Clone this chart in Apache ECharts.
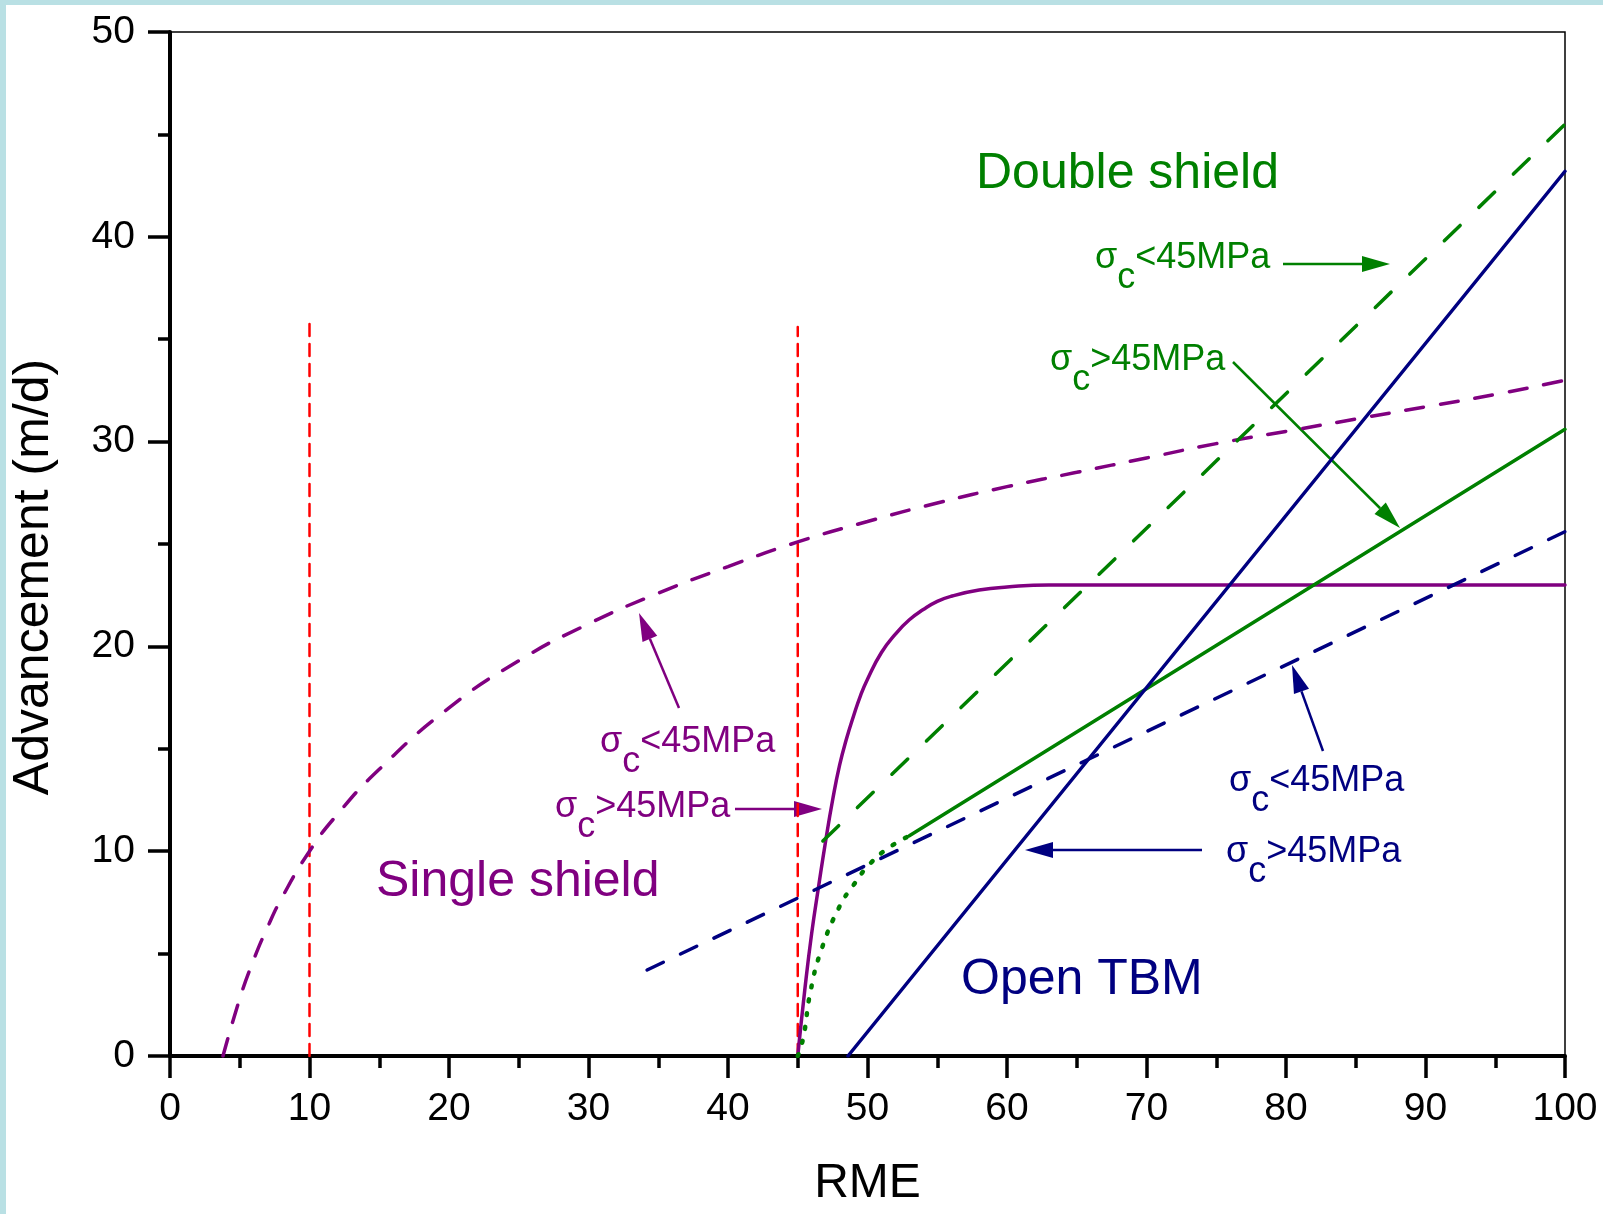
<!DOCTYPE html>
<html>
<head>
<meta charset="utf-8">
<script src="https://cdn.jsdelivr.net/npm/echarts@6.0.0/dist/echarts.min.js"></script>
<style>
html, body { margin: 0; padding: 0; background: #fff; }
#main { width: 1603px; height: 1214px; }
</style>
</head>
<body>
<div id="main"></div>
<script>
// Single shield, sigma_c < 45 MPa (purple dashed)
var ssLowX = [3.8, 5, 6, 7, 8, 10, 12, 15, 20, 25, 30, 35, 40, 45, 50, 55, 60, 65, 70, 75, 80, 85, 90, 95, 100];
var ssLowY = [0, 2.8, 4.7, 6.3, 7.7, 10.0, 11.8, 14.0, 17.0, 19.3, 21.1, 22.6, 23.9, 25.1, 26.1, 27.0, 27.8, 28.5, 29.2, 29.9, 30.5, 31.1, 31.7, 32.3, 33.0];
// Single shield, sigma_c > 45 MPa (purple solid)
var ssHighX = [45, 45.5, 46, 46.5, 47, 47.5, 48, 48.5, 49, 49.5, 50, 51, 52, 53, 54, 55, 56, 58, 60, 63, 66, 100];
var ssHighY = [0, 3.2, 6.0, 8.3, 10.5, 12.5, 14.2, 15.5, 16.6, 17.6, 18.4, 19.7, 20.6, 21.3, 21.8, 22.2, 22.45, 22.75, 22.9, 23.0, 23.0, 23.0];
// Double shield, sigma_c < 45 MPa (green dashed)
var dsLowX = [46.8, 100];
var dsLowY = [10.5, 45.5];
// Double shield, sigma_c > 45 MPa: dotted start, then solid
var dsStartX = [45, 45.4, 45.9, 46.7, 48, 49, 50.2, 51.6, 53];
var dsStartY = [0, 0.9, 3.1, 5.2, 7.3, 8.35, 9.4, 10.2, 10.75];
var dsHighX = [53, 100];
var dsHighY = [10.75, 30.6];
// Open TBM
var obLowX = [34.2, 100];
var obLowY = [4.2, 25.6];
var obHighX = [48.6, 100];
var obHighY = [0, 43.2];
// RME limits (red dashed)
var limit1X = [10, 10];
var limit1Y = [0, 35.9];
var limit2X = [45, 45];
var limit2Y = [0, 35.6];

function pairs(xs, ys) {
    return xs.map(function (x, i) { return [x, ys[i]]; });
}

var FONT = '"Liberation Sans", Arial, sans-serif';
var PURPLE = '#800080', GREEN = '#008000', NAVY = '#000080', RED = '#ff0000';
var SIG = 36;

var measureCtx = document.createElement('canvas').getContext('2d');
measureCtx.font = SIG + 'px ' + FONT;

function sigmaLabel(left, base, rel, color) {
    var w1 = measureCtx.measureText('σ').width;
    var w2 = measureCtx.measureText('c').width;
    var mid = base - SIG * 0.35;
    var st = function (t) {
        return { text: t, fill: color, fontSize: SIG, fontFamily: FONT, align: 'left', verticalAlign: 'middle' };
    };
    return {
        type: 'group',
        children: [
            { type: 'text', x: left, y: mid, style: st('σ') },
            { type: 'text', x: left + w1, y: mid + 20, style: st('c') },
            { type: 'text', x: left + w1 + w2, y: mid, style: st(rel + '45MPa') }
        ]
    };
}

function arrow(x1, y1, x2, y2, color) {
    var dx = x2 - x1, dy = y2 - y1;
    var len = Math.sqrt(dx * dx + dy * dy);
    var ux = dx / len, uy = dy / len;
    var hl = 28, hw = 8;
    var bx = x2 - ux * hl, by = y2 - uy * hl;
    return [
        { type: 'line', shape: { x1: x1, y1: y1, x2: bx, y2: by }, style: { stroke: color, lineWidth: 2.5 } },
        { type: 'polygon', shape: { points: [[x2, y2], [bx - uy * hw, by + ux * hw], [bx + uy * hw, by - ux * hw]] }, style: { fill: color } }
    ];
}

function bigLabel(x, y, text, color) {
    return { type: 'text', x: x, y: y, style: { text: text, fill: color, fontSize: 50, fontFamily: FONT, align: 'left', verticalAlign: 'middle' } };
}

function lineSeries(data, color, type, width, smooth) {
    return {
        type: 'line',
        data: data,
        symbol: 'none',
        smooth: smooth || false,
        silent: true,
        lineStyle: { color: color, width: width, type: type, cap: 'round' }
    };
}

var axisCommon = {
    type: 'value',
    axisLine: { show: true, onZero: false, lineStyle: { color: '#000', width: 4 } },
    axisTick: { show: true, length: 22, lineStyle: { color: '#000', width: 3.5 } },
    minorTick: { show: true, splitNumber: 2, length: 12, lineStyle: { color: '#000', width: 3.5 } },
    splitLine: { show: false },
    minorSplitLine: { show: false }
};

var chart = echarts.init(document.getElementById('main'));

var graphics = [
    { type: 'rect', shape: { x: 0, y: 0, width: 1603, height: 5 }, style: { fill: '#b9e0e4' } },
    { type: 'rect', shape: { x: 0, y: 0, width: 6, height: 1214 }, style: { fill: '#b9e0e4' } },
    { type: 'text', x: 34, y: 577, rotation: Math.PI / 2,
      style: { text: 'Advancement (m/d)', fill: '#000', fontSize: 50, fontFamily: FONT, align: 'center', verticalAlign: 'middle' } },
    bigLabel(976, 174, 'Double shield', GREEN),
    bigLabel(376, 882, 'Single shield', PURPLE),
    bigLabel(961, 980, 'Open TBM', NAVY),
    sigmaLabel(1095, 271, '<', GREEN),
    sigmaLabel(1050, 373, '>', GREEN),
    sigmaLabel(600, 755, '<', PURPLE),
    sigmaLabel(555, 820, '>', PURPLE),
    sigmaLabel(1229, 794, '<', NAVY),
    sigmaLabel(1226, 865, '>', NAVY)
].concat(
    arrow(1283, 264, 1390, 264, GREEN),
    arrow(1233, 362, 1400, 528, GREEN),
    arrow(679, 708, 639, 613, PURPLE),
    arrow(735, 809, 822, 809, PURPLE),
    arrow(1323, 751, 1292, 665, NAVY),
    arrow(1202, 850, 1025, 850, NAVY)
);

chart.setOption({
    animation: false,
    backgroundColor: '#fff',
    grid: { left: 170, right: 38, top: 32, bottom: 158, show: true, borderColor: '#000', borderWidth: 1.5 },
    xAxis: Object.assign({}, axisCommon, {
        min: 0, max: 100, interval: 10,
        name: 'RME', nameLocation: 'middle', nameGap: 104,
        nameTextStyle: { fontSize: 48, color: '#000', fontFamily: FONT },
        axisLabel: { fontSize: 39, color: '#000', margin: 34, fontFamily: FONT }
    }),
    yAxis: Object.assign({}, axisCommon, {
        min: 0, max: 50, interval: 10,
        axisLabel: { fontSize: 39, color: '#000', margin: 35, fontFamily: FONT }
    }),
    series: [
        lineSeries(pairs(limit1X, limit1Y), RED, [12, 8], 2.5),
        lineSeries(pairs(limit2X, limit2Y), RED, [12, 8], 2.5),
        lineSeries(pairs(ssLowX, ssLowY), PURPLE, [18, 17], 3.5, true),
        lineSeries(pairs(ssHighX, ssHighY), PURPLE, 'solid', 3.5, 0.5),
        lineSeries(pairs(dsLowX, dsLowY), GREEN, [22, 26], 3.5),
        lineSeries(pairs(dsStartX, dsStartY), GREEN, [2, 12], 4.5, true),
        lineSeries(pairs(dsHighX, dsHighY), GREEN, 'solid', 3.5),
        lineSeries(pairs(obLowX, obLowY), NAVY, [18, 19], 3.5),
        lineSeries(pairs(obHighX, obHighY), NAVY, 'solid', 3.5)
    ],
    graphic: graphics
});
</script>
</body>
</html>
